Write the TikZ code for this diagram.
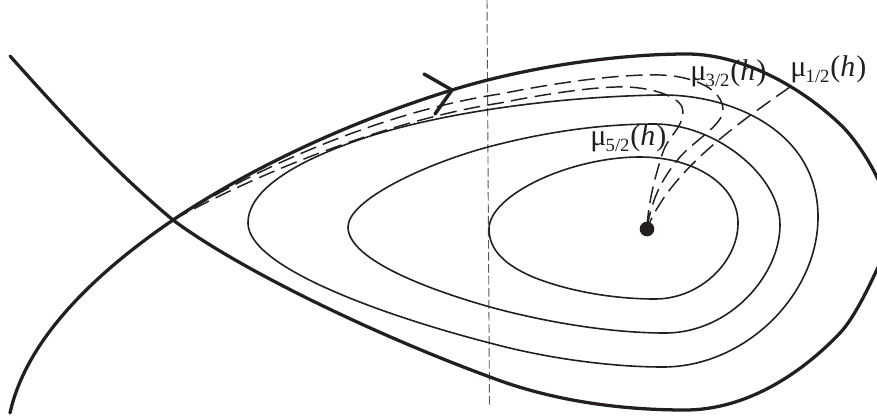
\documentclass[tikz,border=0pt]{standalone}
\usepackage{fontspec}
\setmainfont{Liberation Serif}
\definecolor{ink}{HTML}{231F20}
\newcommand{\mulabel}[1]{{\fontsize{22.5}{25}\selectfont μ\kern-0.5pt\raisebox{-5pt}{\fontsize{14}{15}\selectfont #1}\kern0.7pt(\textit{h}\kern0.7pt)}}
\tikzset{
  thickline/.style={ink,line width=2.45pt,line cap=round,line join=round},
  thinline/.style={ink,line width=1.2pt,line cap=round,line join=round},
  dashline/.style={ink,line width=1.1pt,dash pattern=on 12.5pt off 5.5pt},
  axisline/.style={ink!75,line width=0.7pt,dash pattern=on 6.5pt off 2.5pt},
  lbl/.style={inner sep=0pt,anchor=base west,text=ink}
}
\begin{document}
\begin{tikzpicture}[x=0.75pt,y=-0.75pt]
\useasboundingbox (0,0) rectangle (877,418);
\clip (0,0) rectangle (877,418);
\coordinate (saddle) at (173,220);
\coordinate (centre) at (647,229);
\coordinate (arrowtip) at (452,90);
\coordinate (barbA) at (424,74);
\coordinate (barbB) at (435,114);
\coordinate (axistop) at (487,0);
\coordinate (axisbot) at (489.5,405);
\coordinate (endA) at (10,56);
\coordinate (endB) at (10,413);
\coordinate (endC) at (790,87);
% axis
\draw[axisline] (axistop) -- (axisbot);
% separatrices
\draw[thickline] (endA) .. controls (60,112) and (115,172) .. (saddle)
  .. controls (240,270) and (378,336) .. (490,377)
  .. controls (555,402) and (625,410) .. (685,410)
  .. controls (745,410) and (800,375) .. (840,333)
  .. controls (855,317) and (870,285) .. (885,252);
\draw[thickline] (endB) .. controls (25,345) and (85,280) .. (saddle)
  .. controls (255,165) and (355,120) .. (452,90)
  .. controls (530,66) and (620,54) .. (687,54)
  .. controls (740,54) and (800,85) .. (843,127)
  .. controls (860,145) and (875,170) .. (885,195);
% contours
\draw[thinline] (248,223) .. controls (248,190) and (295,163) .. (350,143)
  .. controls (420,117) and (540,97) .. (660,95)
  .. controls (730,94) and (818,130) .. (818,217)
  .. controls (818,295) and (745,367) .. (663,367)
  .. controls (610,367) and (545,358) .. (490,343)
  .. controls (400,320) and (248,270) .. (248,223) -- cycle;
\draw[thinline] (348,227) .. controls (348,200) and (425,164) .. (488,147)
  .. controls (545,132) and (600,124) .. (655,124)
  .. controls (715,124) and (780,175) .. (780,225)
  .. controls (780,275) and (730,333) .. (665,333)
  .. controls (610,333) and (545,322) .. (490,307)
  .. controls (430,290) and (348,260) .. (348,227) -- cycle;
\draw[thinline] (489,229) .. controls (489,195) and (570,157) .. (640,157)
  .. controls (695,157) and (738,185) .. (738,223)
  .. controls (738,262) and (700,299) .. (655,299)
  .. controls (610,299) and (565,290) .. (533,277)
  .. controls (505,265) and (489,250) .. (489,229) -- cycle;
% dashed curves
\draw[dashline] (saddle) .. controls (260,165) and (390,110) .. (500,94)
  .. controls (560,82) and (620,74) .. (660,75)
  .. controls (695,76) and (723,90) .. (723,110)
  .. controls (723,125) and (695,140) .. (680,157)
  .. controls (665,175) and (652,195) .. (centre);
\draw[dashline] (saddle) .. controls (260,172) and (390,120) .. (500,103)
  .. controls (550,93) and (600,86) .. (627,87)
  .. controls (655,88) and (684,98) .. (683,112)
  .. controls (682,130) and (668,135) .. (662,155)
  .. controls (654,180) and (648,205) .. (centre);
\draw[dashline] (endC) .. controls (740,122) and (670,170) .. (centre);
% orbit arrow
\draw[thickline,line width=2.6pt] (barbA) -- (arrowtip) -- (barbB);
% centre point
\node[circle,fill=ink,inner sep=0pt,minimum size=11pt] (dot) at (centre) {};
% labels
\node[lbl] (m12) at (790,76) {\mulabel{1/2}};
\node[lbl] (m32) at (690,80) {\mulabel{3/2}};
\node[lbl] (m52) at (590,145) {\mulabel{5/2}};
\end{tikzpicture}
\end{document}
